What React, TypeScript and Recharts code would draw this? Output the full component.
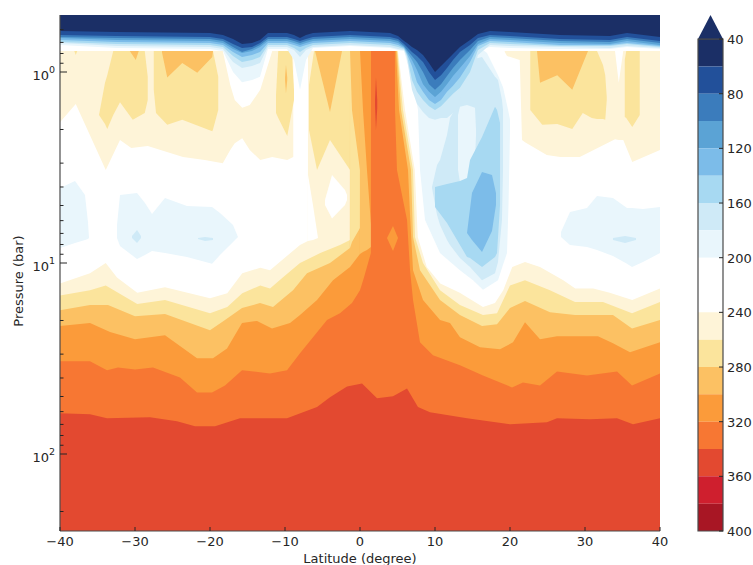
import { Area, ComposedChart, ReferenceArea, XAxis, YAxis } from 'recharts';

const FONT = '"DejaVu Sans", sans-serif';
const INK = '#262626';
const FRAME = '#4a4a4a';
const PMIN = 0.503;
const PMAX = 253;

const latTicks = [-40, -30, -20, -10, 0, 10, 20, 30, 40];
const pressureTicks = [0.6, 0.7, 0.8, 0.9, 1, 2, 3, 4, 5, 6, 7, 8, 9, 10, 20, 30, 40, 50, 60, 70, 80, 90, 100, 200];
const tempTicks = [40, 80, 120, 160, 200, 240, 280, 320, 360, 400];
const tempLevels = [40, 60, 80, 100, 120, 140, 160, 180, 200, 220, 240, 260, 280, 300, 320, 340, 360, 380, 400];
const tempColors = [
  '#1b2f66', '#22509a', '#3b7cbc', '#5ba3d5', '#7cbce9', '#a7d9f2', '#cfeaf7', '#e9f6fc', '#ffffff',
  '#ffffff', '#fef4d8', '#fbe49c', '#fcc163', '#fb9b3a', '#f77733', '#e34930', '#cf1f2e', '#a81624',
];
const [c40, c60, c80, c100, c120, c140, c160, c180, , , c240, c260, c280, c300, c320, c340] = tempColors;

// warm patches under the top band: [lat, upper pressure, lower pressure]
const hang240West = [[-40, 0.776, 1.83], [-37.9, 0.776, 1.47], [-33.9, 0.776, 3.26], [-32, 0.776, 2.27], [-30.5, 0.776, 2.5], [-28.3, 0.776, 2.44], [-23.6, 0.776, 2.79], [-20.7, 0.776, 2.89], [-18.3, 0.776, 3.0], [-17.3, 1.17, 2.56], [-16.7, 1.4, 2.36], [-15.7, 1.54, 2.22], [-14.7, 1.49, 2.56], [-13.3, 1.24, 2.89], [-11.7, 0.776, 2.79], [-9.7, 0.776, 2.89], [-8.9, 0.776, 2.79]];
const hang240East = [[19.3, 0.776, 0.786], [19.6, 0.776, 0.824], [21.3, 0.776, 0.865], [21.6, 0.776, 2.27], [22, 0.776, 2.33], [24.9, 0.776, 2.72], [26.7, 0.776, 2.79], [29.3, 0.776, 2.79], [34, 0.776, 2.25], [34.5, 1.14, 2.27], [35.1, 0.776, 2.27], [36.3, 0.776, 2.96], [40, 0.776, 2.56]];
const hang260A = [[-34.8, 1.68, 1.68], [-34, 1.14, 1.87], [-33.7, 1.04, 1.99], [-32.9, 0.776, 1.68], [-32, 0.776, 1.44], [-30.3, 0.776, 1.78], [-28.7, 0.776, 1.64], [-28.3, 1.06, 1.4]];
const hang260B = [[-27.5, 0.776, 1.24], [-27.2, 0.776, 1.64], [-25.7, 0.776, 1.89], [-23.7, 0.776, 1.78], [-19.7, 0.776, 2.04], [-19.6, 0.776, 2.0], [-18.9, 1.06, 1.58]];
const hang260Dot = [[-38.1, 0.776, 0.776], [-37.9, 0.776, 0.815], [-37.7, 0.776, 0.776]];
const hang260C = [[-11.2, 1.32, 1.64], [-10.9, 0.776, 1.74], [-9.7, 0.776, 2.16], [-9.1, 0.776, 1.62], [-8.8, 1.24, 1.4]];
const hang260D = [[22.7, 0.776, 1.58], [24.3, 0.776, 1.89], [26.3, 0.776, 1.87], [28.3, 0.776, 1.99], [29.7, 0.776, 1.64], [30.9, 0.776, 1.74], [31.6, 0.776, 1.76], [32.4, 0.919, 1.76], [32.7, 1.04, 1.78], [32.9, 1.35, 1.4]];
const hang260E = [[35.3, 0.865, 1.72], [35.5, 0.776, 1.74], [36.3, 0.776, 1.94], [37.3, 0.776, 1.68]];
const hang280A = [[-30.7, 0.776, 0.776], [-29.9, 0.776, 0.865], [-29.5, 0.776, 0.776]];
const hang280B = [[-26.4, 0.776, 0.79], [-25.7, 0.776, 1.07], [-23.7, 0.776, 0.897], [-21.7, 0.776, 1.01], [-19.7, 0.776, 0.835], [-19.6, 0.776, 0.776]];
const hang280C = [[23.6, 0.776, 0.776], [24, 0.776, 1.14], [26.3, 0.776, 1.04], [28.3, 0.776, 1.24], [30.4, 0.776, 0.776]];
const hang280Sliver = [[-10, 1.07, 1.1], [-9.87, 0.919, 1.29], [-9.7, 1.07, 1.1]];

// warm levels rising from the bottom: [lat, pressure of the upper edge]
const rise240 = [[-40, 12.8], [-36, 11.3], [-33.9, 10], [-32.4, 11.9], [-29.7, 14.3], [-26, 13.4], [-20, 15.3], [-17.7, 14.4], [-15.7, 11.3], [-13.3, 10.6], [-12, 10.9], [-8, 8.05], [-6.95, 7.67], [-6.93, 0.776], [5.07, 0.776], [6, 1.58], [7.3, 3.26], [7.7, 7.31], [8.9, 10.5], [10.7, 12.8], [13.3, 14.3], [16.4, 17], [18, 16.2], [19.1, 13.9], [20.3, 10.5], [22, 9.88], [24, 10.5], [27.1, 12.3], [28.7, 13.6], [31.1, 13.6], [33.3, 14.3], [36.3, 15.6], [40, 13.6]];
const rise260 = [[-40, 14.8], [-36, 13.9], [-33.9, 13.1], [-29.7, 16.4], [-26, 15.6], [-20, 18.3], [-17.7, 17], [-15.7, 14.4], [-13.3, 13.1], [-12, 13.6], [-10.3, 11.9], [-8, 10], [-5.3, 8.87], [-2.67, 8.05], [-1.33, 7.58], [-1.08, 7.49], [-1.07, 0.776], [5, 0.776], [5.73, 1.58], [7.07, 3.26], [7.33, 7.31], [8.4, 10], [10.67, 13.9], [13.33, 16.6], [16.4, 18.7], [18.27, 18.3], [20, 13.1], [22, 12.3], [25.33, 13.9], [28.67, 16], [32.4, 16], [36.27, 18.3], [40, 16]];
const rise280 = [[-40, 17.7], [-36, 16.6], [-33.6, 16.6], [-30, 19], [-26, 18.5], [-20, 22.5], [-18, 19.9], [-15.73, 17.2], [-13.33, 16.2], [-11.6, 17], [-8.93, 13.9], [-7.07, 11.3], [-4, 10], [-1.35, 8.35], [-1.33, 0.776], [4.93, 0.776], [5.47, 1.58], [6.8, 3.26], [7.07, 7.31], [8, 10.9], [10.67, 15.6], [13.33, 18.7], [16.27, 21.4], [18.27, 20.9], [20, 17.2], [22, 15.8], [25.33, 18.1], [28.67, 18.7], [33.73, 18.7], [36.27, 22], [40, 19.9]];
const rise300 = [[-40, 21.4], [-36, 20.6], [-33.33, 23], [-30, 25.1], [-26, 23.9], [-21.73, 31.5], [-19.6, 31.5], [-17.73, 28], [-15.73, 20.6], [-13.73, 20.1], [-11.73, 22], [-9.33, 20.6], [-8, 18.7], [-5.73, 15.6], [-3.6, 12.3], [-1.33, 10.5], [-0.01, 8.97], [0, 0.776], [4.8, 0.776], [5.2, 1.58], [6.4, 3.26], [6.67, 5.61], [7.07, 10.9], [8.4, 15.6], [10.67, 19.9], [12, 20.6], [13.33, 24.5], [16, 27.6], [18.67, 28.3], [20.4, 26], [22, 20.4], [24, 25.1], [26.27, 24.2], [31.73, 24.2], [33.73, 26.3], [36, 29.3], [40, 26]];
const rise320 = [[-40, 32.7], [-36, 32.7], [-33.73, 36.4], [-32.27, 35.2], [-30, 36.1], [-27.6, 35.2], [-24, 39.8], [-21.73, 47.6], [-19.73, 47.6], [-18, 43.8], [-15.73, 36.4], [-12, 37.9], [-9.73, 36.4], [-8, 29.7], [-4.4, 19.9], [-2.67, 18.3], [-1.07, 16.2], [0, 13.9], [0.53, 11.9], [1.45, 8.87], [1.47, 0.776], [4.65, 0.776], [4.67, 1.58], [4.93, 3.26], [6.27, 5.96], [6.67, 10.9], [7.07, 15.6], [8, 26], [9.73, 30.4], [13.33, 34.3], [16.4, 38.8], [20.27, 44.8], [21.73, 42.2], [24, 43.8], [26.27, 37], [30.27, 38.8], [34.27, 37], [36.27, 43.8], [40, 37.9]];
const rise340 = [[-40, 61.2], [-36, 62], [-33.73, 65], [-28, 64.2], [-24.4, 67.4], [-22, 71.6], [-19.33, 71.6], [-16, 65], [-9.73, 65], [-5.73, 56.8], [-4, 50.5], [-1.73, 44.3], [0.27, 42.7], [2.27, 51.1], [4.4, 49.9], [6.27, 45.4], [7.73, 56.8], [9.33, 60.4], [14.27, 65], [20, 69.9], [24.93, 68.2], [26.27, 65], [30.67, 65.7], [34.27, 65], [36.4, 69.9], [40, 65]];

// cuts and patches inside the rising levels: [lat, upper pressure, lower pressure]
const wedgeWhite = [[-6.93, 3.46, 7.67], [-6.27, 4.97, 7.58], [-5.6, 7.4, 7.4]];
const islandWhite = [[-4.67, 4.68, 4.97], [-3.73, 3.46, 5.84], [-2, 4.15, 4.97], [-1.73, 4.41, 4.68]];
const column260 = [[-6.8, 1.17, 2.01], [-6.13, 0.776, 2.72], [-5.73, 0.776, 3.26], [-4, 0.776, 2.27], [-1.33, 0.776, 3.26], [-1.07, 0.776, 7.58]];
const column280 = [[-6, 0.776, 0.776], [-4, 0.776, 1.62], [-2.4, 0.776, 0.776]];
const sliver260 = [[-1.33, 0.776, 8.35], [-1.07, 1.58, 7.76], [0, 3.26, 6.55], [0.13, 5.96, 6.03]];
const sliver280 = [[0, 0.776, 8.97], [0.4, 1.58, 8.76], [0.93, 3.26, 8.55], [1.47, 6.32, 8.25]];
const diamond300 = [[3.6, 7.4, 7.4], [4.4, 6.4, 8.65], [5.07, 7.4, 7.4]];
const sliver340 = [[2.0, 1.4, 1.49], [2.13, 1.07, 2.01], [2.3, 1.4, 1.54]];

// pale blue pools in the white zone
const poolWest = [[-40, 4.05, 8.35], [-38, 3.72, 7.86], [-36.67, 4.41, 7.58], [-36.27, 6.1, 7.49], [-36.13, 7.4, 7.4]];
const poolMid = [[-32.4, 6.32, 7.4], [-32, 4.41, 8.15], [-29.73, 4.3, 9.53], [-28.67, 4.85, 9.08], [-27.73, 5.54, 8.65], [-26, 4.57, 8.87], [-23.07, 5.03, 9.3], [-19.73, 5.09, 10.1], [-18.67, 5.47, 9.08], [-16.93, 6.32, 7.76], [-16.27, 7.31, 7.31]];
const poolEast = [[26.8, 6.88, 7.31], [28, 5.41, 8.05], [30.27, 5.15, 8.25], [31.6, 4.46, 8.55], [33.73, 4.57, 9.19], [35.6, 5.15, 10.1], [36.27, 5.15, 10.5], [37.73, 5.21, 9.88], [40, 5.09, 8.87]];
const spotMid = [[-30.4, 7.22, 7.4], [-29.73, 6.72, 7.86], [-29.2, 7.22, 7.4]];
const dashMid = [[-21.6, 7.4, 7.49], [-20.67, 7.31, 7.67], [-19.6, 7.4, 7.58]];
const dashEast = [[33.73, 7.4, 7.58], [35.33, 7.22, 7.86], [36.8, 7.4, 7.58]];

// cold column south of the jet
const column180 = [[5.87, 0.722, 0.776], [6.27, 0.722, 0.887], [7.07, 0.722, 1.1], [7.73, 0.722, 1.58], [8, 0.722, 3.26], [8.67, 0.722, 5.96], [10.67, 0.722, 8.87], [13.33, 0.722, 10.9], [15.07, 0.722, 12.3], [16.4, 0.767, 13.8], [16.93, 0.795, 13.4], [18.4, 1.04, 12.3], [19.07, 1.2, 10.2], [19.6, 1.49, 8.87], [19.8, 1.62, 4.97], [20, 1.78, 2.01]];
const column160 = [[9.6, 4.0, 4.05], [10.27, 3.07, 5.61], [10.67, 2.89, 6.32], [11.6, 2.14, 7.58], [12, 1.74, 8.05], [13.33, 1.4, 9.42], [14.67, 0.865, 10.5], [16.27, 0.835, 12.3], [18, 1.06, 11.3], [18.4, 1.1, 9.88], [18.93, 1.4, 5.96], [19.07, 1.58, 3.26]];
const gap180 = [[13.07, 1.68, 3.26], [13.33, 1.52, 3.77], [14.27, 1.49, 3.68], [15.33, 1.54, 2.89], [15.47, 2.01, 2.14]];
const column140 = [[10, 4.0, 5.09], [11.6, 3.86, 6.17], [13.33, 3.72, 8.05], [14.27, 3.59, 9.3], [14.67, 2.89, 9.42], [16.27, 2.19, 10.5], [18, 1.52, 9.3], [18.27, 1.58, 8.87], [18.67, 1.85, 4.97]];
const column120 = [[14.27, 6.96, 6.96], [14.93, 4.3, 7.58], [16.27, 3.34, 8.76], [17.6, 3.46, 6.8], [18.13, 4.3, 4.97]];

// top band: pressure of each level's lower edge at every topLat
const topLat = [-40, -32.4, -20, -18.27, -16.93, -15.73, -14.4, -13.33, -12.27, -9.73, -8.8, -8, -7.2, -6.27, -1.33, 4, 5.07, 5.87, 6.27, 6.93, 7.6, 8.4, 9.2, 10, 10.8, 11.6, 12.4, 13.33, 14.67, 15.73, 17.33, 20, 26.67, 33.33, 35.6, 40];
const top60 = [0.61, 0.617, 0.625, 0.64, 0.672, 0.714, 0.705, 0.68, 0.625, 0.625, 0.64, 0.664, 0.64, 0.625, 0.61, 0.625, 0.648, 0.688, 0.705, 0.74, 0.767, 0.815, 0.897, 1.0, 0.93, 0.865, 0.805, 0.74, 0.68, 0.632, 0.61, 0.617, 0.64, 0.648, 0.625, 0.656];
const top80 = [0.64, 0.648, 0.656, 0.672, 0.714, 0.749, 0.74, 0.705, 0.656, 0.656, 0.672, 0.688, 0.672, 0.656, 0.64, 0.656, 0.672, 0.714, 0.74, 0.786, 0.824, 0.887, 1.0, 1.1, 1.04, 0.953, 0.865, 0.786, 0.722, 0.664, 0.64, 0.648, 0.672, 0.68, 0.656, 0.688];
const top100 = [0.656, 0.664, 0.672, 0.688, 0.74, 0.786, 0.758, 0.722, 0.672, 0.672, 0.688, 0.705, 0.688, 0.672, 0.656, 0.672, 0.688, 0.731, 0.767, 0.824, 0.887, 1.0, 1.16, 1.24, 1.16, 1.05, 0.953, 0.865, 0.767, 0.688, 0.656, 0.664, 0.688, 0.696, 0.672, 0.705];
const top120 = [0.664, 0.68, 0.688, 0.705, 0.758, 0.795, 0.776, 0.74, 0.688, 0.688, 0.705, 0.722, 0.705, 0.688, 0.672, 0.688, 0.705, 0.74, 0.786, 0.865, 0.976, 1.16, 1.27, 1.35, 1.27, 1.16, 1.05, 0.953, 0.824, 0.714, 0.672, 0.68, 0.705, 0.714, 0.688, 0.722];
const top140 = [0.68, 0.696, 0.705, 0.722, 0.786, 0.835, 0.815, 0.786, 0.705, 0.705, 0.722, 0.74, 0.722, 0.705, 0.688, 0.705, 0.722, 0.749, 0.805, 0.93, 1.13, 1.27, 1.4, 1.47, 1.4, 1.27, 1.18, 1.07, 0.887, 0.731, 0.688, 0.696, 0.722, 0.722, 0.705, 0.731];
const top160 = [0.696, 0.714, 0.722, 0.74, 0.824, 0.887, 0.865, 0.835, 0.722, 0.722, 0.749, 0.786, 0.749, 0.722, 0.705, 0.722, 0.74, 0.758, 0.824, 1.1, 1.27, 1.4, 1.51, 1.58, 1.51, 1.4, 1.3, 1.21, 1.0, 0.767, 0.705, 0.714, 0.731, 0.731, 0.714, 0.74];
const top180 = [0.705, 0.731, 0.74, 0.758, 0.887, 0.953, 0.93, 0.897, 0.74, 0.74, 0.767, 0.835, 0.767, 0.74, 0.722, 0.74, 0.758, 0.767, 0.855, 1.24, 1.47, 1.62, 1.74, 1.78, 1.74, 1.74, 1.64, 1.49, 1.17, 0.815, 0.722, 0.731, 0.74, 0.749, 0.731, 0.749];
const top200 = [0.722, 0.749, 0.758, 0.776, 1.0, 1.13, 1.1, 1.06, 0.758, 0.758, 0.865, 1.24, 0.865, 0.749, 0.731, 0.749, 0.767, 0.776, 0.786, 0.767, 0.767, 0.767, 0.767, 0.767, 0.767, 0.767, 0.767, 0.767, 0.767, 0.767, 0.74, 0.749, 0.758, 0.758, 0.74, 0.758];

const patch = (points: number[][]) => points.map(([lat, a, b]) => ({ lat, band: [a, b] }));
const rise = (points: number[][]) => points.map(([lat, p]) => ({ lat, band: [p, PMAX] }));
const hang = (values: number[]) => values.map((p, i) => ({ lat: topLat[i], band: [PMIN, p] }));

// painted back to front
const layers: [any[], string][] = [
  [patch(hang240West), c240],
  [patch(hang240East), c240],
  [patch(hang260A), c260],
  [patch(hang260B), c260],
  [patch(hang260Dot), c260],
  [patch(hang260C), c260],
  [patch(hang260D), c260],
  [patch(hang260E), c260],
  [patch(hang280A), c280],
  [patch(hang280B), c280],
  [patch(hang280C), c280],
  [patch(hang280Sliver), c280],
  [rise(rise240), c240],
  [patch(wedgeWhite), '#ffffff'],
  [patch(islandWhite), '#ffffff'],
  [rise(rise260), c260],
  [patch(column260), c260],
  [patch(column280), c280],
  [rise(rise280), c280],
  [patch(sliver260), c260],
  [rise(rise300), c300],
  [patch(sliver280), c280],
  [rise(rise320), c320],
  [patch(diamond300), c300],
  [patch(sliver340), c340],
  [rise(rise340), c340],
  [patch(poolWest), c180],
  [patch(poolMid), c180],
  [patch(poolEast), c180],
  [patch(spotMid), c160],
  [patch(dashMid), c160],
  [patch(dashEast), c160],
  [hang(top200), c180],
  [patch(column180), c180],
  [hang(top180), c160],
  [patch(column160), c160],
  [patch(gap180), c180],
  [hang(top160), c140],
  [patch(column140), c140],
  [hang(top140), c120],
  [patch(column120), c120],
  [hang(top120), c100],
  [hang(top100), c80],
  [hang(top80), c60],
  [hang(top60), c40],
];

const BottomTick = ({ x, y, payload }: any) => (
  <g>
    <line x1={x} x2={x} y1={y} y2={y - 4} stroke={INK} />
    <text x={x} y={y + 15} textAnchor="middle" fontSize={13} fill={INK}>
      {String(payload.value).replace('-', '\u2212')}
    </text>
  </g>
);

const TopTick = ({ x, y }: any) => <line x1={x} x2={x} y1={y} y2={y + 4} stroke={INK} />;

const isDecade = (v: number) => v === 1 || v === 10 || v === 100;

const LeftTick = ({ x, y, payload }: any) => {
  const major = isDecade(payload.value);
  return (
    <g>
      <line x1={x} x2={x + (major ? 7 : 3.5)} y1={y} y2={y} stroke={INK} />
      {major && (
        <text x={x - 5} y={y + 8} textAnchor="end" fontSize={13} fill={INK}>
          10
          <tspan fontSize={9.5} dy={-7}>
            {Math.round(Math.log10(payload.value))}
          </tspan>
        </text>
      )}
    </g>
  );
};

const RightTick = ({ x, y, payload }: any) => (
  <line x1={x} x2={x - (isDecade(payload.value) ? 7 : 3.5)} y1={y} y2={y} stroke={INK} />
);

const BarTick = ({ x, y, payload }: any) => (
  <g>
    <line x1={x} x2={x - 4} y1={y} y2={y} stroke={INK} />
    <text x={x + 4} y={y + 5} fontSize={13} fill={INK}>
      {payload.value}
    </text>
  </g>
);

const barEnds = [0, 1];
const barTip = 22.4;

export default function App() {
  return (
    <div style={{ position: 'absolute', left: 0, top: 0, width: 753, height: 565, fontFamily: FONT }}>
      <div style={{ position: 'absolute', left: 0, top: 0 }}>
        <ComposedChart width={680} height={565} margin={{ top: 15, right: 20, bottom: 0, left: 0 }}>
          {layers.map(([rows, color], i) => (
            <Area
              key={i}
              data={rows}
              dataKey="band"
              type="linear"
              stroke="none"
              fill={color}
              fillOpacity={1}
              dot={false}
              activeDot={false}
              isAnimationActive={false}
            />
          ))}
          <XAxis
            dataKey="lat"
            type="number"
            domain={[-40, 40]}
            ticks={latTicks}
            interval={0}
            height={34}
            allowDataOverflow
            tickSize={0}
            tickMargin={0}
            tickLine={false}
            tick={<BottomTick />}
            axisLine={{ stroke: FRAME, strokeWidth: 1.2 }}
            label={{ value: 'Latitude (degree)', position: 'insideBottom', offset: 2, fontSize: 13, fill: INK }}
          />
          <XAxis
            xAxisId="top"
            orientation="top"
            type="number"
            domain={[-40, 40]}
            ticks={latTicks}
            interval={0}
            height={0}
            allowDataOverflow
            tickSize={0}
            tickMargin={0}
            tickLine={false}
            tick={<TopTick />}
            axisLine={{ stroke: FRAME, strokeWidth: 1.2 }}
          />
          <YAxis
            scale="log"
            type="number"
            reversed
            domain={[PMIN, PMAX]}
            ticks={pressureTicks}
            interval={0}
            width={60}
            allowDataOverflow
            tickSize={0}
            tickMargin={0}
            tickLine={false}
            tick={<LeftTick />}
            axisLine={{ stroke: FRAME, strokeWidth: 1.2 }}
            label={{ value: 'Pressure (bar)', angle: -90, position: { x: 23, y: 266 }, textAnchor: 'middle', fontSize: 13, fill: INK }}
          />
          <YAxis
            yAxisId="right"
            orientation="right"
            scale="log"
            type="number"
            reversed
            domain={[PMIN, PMAX]}
            ticks={pressureTicks}
            interval={0}
            width={0}
            allowDataOverflow
            tickSize={0}
            tickMargin={0}
            tickLine={false}
            tick={<RightTick />}
            axisLine={{ stroke: FRAME, strokeWidth: 1.2 }}
          />
        </ComposedChart>
      </div>
      <div style={{ position: 'absolute', left: 0, top: 0 }}>
        <ComposedChart width={753} height={565} margin={{ top: 15, right: 0, bottom: 34, left: 698 }}>
          <Area
            data={[
              { pos: 0, band: [40, 40] },
              { pos: 0.5, band: [barTip, 40] },
              { pos: 1, band: [40, 40] },
            ]}
            dataKey="band"
            stroke="none"
            fill={tempColors[0]}
            fillOpacity={1}
            dot={false}
            activeDot={false}
            isAnimationActive={false}
          />
          {tempColors.map((color, i) => (
            <Area
              key={color + i}
              data={barEnds.map((pos) => ({ pos, band: [tempLevels[i], tempLevels[i + 1]] }))}
              dataKey="band"
              stroke="none"
              fill={color}
              fillOpacity={1}
              dot={false}
              activeDot={false}
              isAnimationActive={false}
            />
          ))}
          <XAxis dataKey="pos" type="number" domain={[0, 1]} hide />
          <YAxis
            orientation="right"
            type="number"
            reversed
            domain={[barTip, 400]}
            ticks={tempTicks}
            interval={0}
            width={30}
            allowDataOverflow
            tickSize={0}
            tickMargin={0}
            tickLine={false}
            axisLine={false}
            tick={<BarTick />}
          />
          <ReferenceArea x1={0} x2={1} y1={40} y2={400} fill="none" stroke={FRAME} strokeWidth={1.2} />
        </ComposedChart>
      </div>
    </div>
  );
}
